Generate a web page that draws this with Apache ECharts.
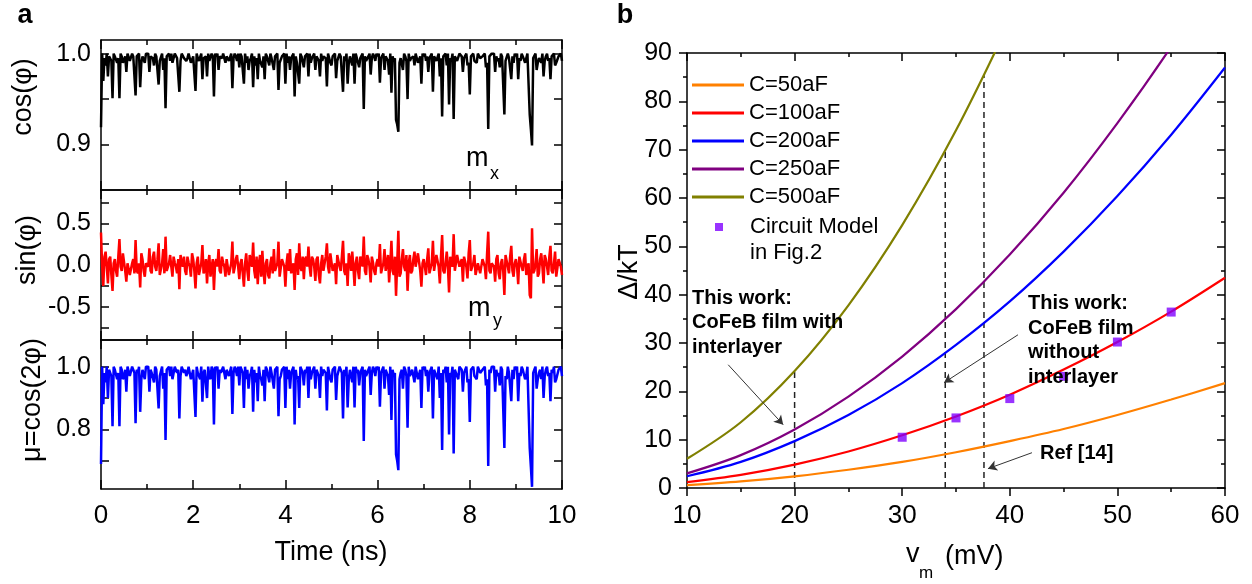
<!DOCTYPE html>
<html>
<head>
<meta charset="utf-8">
<script src="https://cdn.jsdelivr.net/npm/echarts@6/dist/echarts.min.js"></script>
<style>html,body{margin:0;padding:0;background:#fff}#c{width:1252px;height:584px}</style>
</head>
<body>
<div id="c"></div>
<script>
// ---------- Panel a data (sampled every 0.025 ns, 0..10 ns) ----------
const timeStep = 0.025;
const cosPhi = [
0.919,1.000,0.970,0.995,0.987,1.000,0.975,0.997,0.995,0.992,0.951,1.000,0.997,0.997,0.990,0.995,0.951,1.000,0.997,0.990,
0.992,0.997,0.980,1.000,1.000,0.992,0.992,1.000,0.997,0.995,0.954,0.997,0.995,1.000,0.963,0.990,0.997,0.997,0.990,1.000,
1.000,1.000,0.980,0.997,0.995,0.995,0.987,1.000,0.997,0.997,0.966,0.992,0.992,1.000,0.982,0.995,0.940,0.997,0.997,1.000,
0.992,1.000,0.990,0.995,1.000,1.000,0.995,0.997,0.958,0.992,1.000,1.000,0.995,0.997,0.992,0.995,1.000,1.000,0.990,0.990,
0.997,0.997,0.959,1.000,0.995,0.992,0.990,1.000,0.972,0.995,0.997,0.997,0.975,1.000,0.992,0.990,1.000,0.997,0.953,1.000,
0.997,1.000,0.982,0.997,0.995,0.995,1.000,1.000,0.990,0.997,0.997,0.992,0.992,1.000,0.962,0.995,1.000,0.997,0.992,1.000,
0.985,1.000,0.997,0.995,0.967,1.000,0.990,0.997,0.982,0.992,0.995,1.000,0.963,0.997,0.987,0.995,0.972,1.000,0.992,0.990,
0.985,0.997,0.972,1.000,0.997,0.992,0.987,1.000,0.995,0.995,0.982,0.997,0.997,1.000,0.960,0.990,0.992,0.997,0.997,1.000,
0.967,1.000,0.990,0.997,0.982,0.995,0.995,1.000,0.953,0.997,0.990,0.992,0.967,1.000,0.997,0.995,0.985,0.997,0.995,1.000,
0.975,1.000,0.990,0.995,0.997,1.000,0.982,0.997,0.995,0.992,0.975,1.000,0.992,0.997,0.997,0.995,0.964,1.000,0.995,0.990,
0.987,0.997,0.997,1.000,0.973,0.992,0.992,1.000,0.997,0.995,0.958,0.997,0.992,1.000,0.967,0.990,0.997,0.997,0.987,1.000,
0.967,1.000,0.995,0.997,0.985,0.995,0.997,1.000,0.939,0.997,0.992,0.992,0.997,1.000,0.977,0.995,1.000,0.997,0.992,1.000,
0.997,1.000,0.968,0.995,0.995,1.000,0.982,0.997,0.997,0.992,0.977,1.000,0.957,0.997,0.992,0.995,0.927,0.922,0.914,0.990,
0.995,0.997,0.982,1.000,0.997,0.992,0.950,1.000,0.992,0.995,0.997,0.997,0.987,1.000,1.000,0.990,0.990,0.997,0.967,1.000,
0.997,1.000,0.992,0.997,0.980,0.995,0.995,1.000,0.958,0.997,0.997,0.992,0.990,1.000,0.975,0.995,0.931,0.997,0.995,1.000,
0.987,1.000,0.944,0.995,0.992,1.000,0.928,0.997,0.997,0.992,0.990,1.000,1.000,0.997,0.980,0.995,0.995,1.000,0.987,0.990,
0.955,0.997,0.997,1.000,0.992,0.992,0.990,1.000,1.000,0.995,0.995,0.997,0.997,1.000,0.985,0.990,0.917,0.997,0.995,1.000,
1.000,1.000,0.980,0.997,0.992,0.995,0.985,1.000,0.997,0.997,0.933,0.992,0.990,1.000,0.995,0.995,0.972,0.997,0.990,1.000,
0.997,1.000,0.972,0.995,0.992,1.000,0.997,0.997,0.990,0.992,1.000,1.000,0.933,0.917,0.899,0.995,0.997,1.000,0.982,0.990,
0.995,0.997,0.990,1.000,0.975,0.992,0.997,1.000,0.992,0.995,0.972,0.997,0.995,1.000,0.987,0.990,0.990,0.997,0.997,1.000,
0.992];
const sinPhi = [
0.39,-0.02,-0.25,0.10,0.16,-0.02,-0.22,0.07,0.10,-0.12,-0.31,0.02,0.07,-0.07,-0.14,0.10,0.31,-0.02,-0.07,0.14,
0.12,-0.07,-0.20,0.02,0.03,-0.12,-0.12,0.02,0.07,-0.10,0.30,-0.07,-0.10,0.02,-0.27,0.14,0.07,-0.07,-0.14,0.02,
0.03,-0.02,0.20,-0.07,-0.10,0.10,0.16,-0.02,-0.07,0.07,0.26,-0.12,-0.12,0.02,0.19,-0.10,0.34,-0.07,-0.07,0.02,
0.12,-0.02,-0.14,0.10,0.03,-0.02,-0.10,0.07,-0.29,0.12,0.04,-0.02,0.10,-0.07,-0.12,0.10,0.03,-0.02,-0.14,0.14,
0.07,-0.07,-0.28,0.02,0.10,-0.12,-0.14,0.02,0.24,-0.10,-0.07,0.07,-0.22,0.02,0.12,-0.14,-0.03,0.07,-0.30,0.02,
0.07,-0.02,0.19,-0.07,-0.10,0.10,0.03,-0.02,-0.14,0.07,0.07,-0.12,-0.12,0.02,0.28,-0.10,-0.03,0.07,0.12,-0.02,
-0.17,0.02,0.07,-0.10,-0.26,0.02,0.14,-0.07,-0.19,0.12,0.10,-0.02,0.27,-0.07,-0.16,0.10,-0.23,0.02,0.12,-0.14,
0.17,-0.07,-0.23,0.02,0.07,-0.12,-0.16,0.02,0.10,-0.10,0.19,-0.07,-0.07,0.02,0.28,-0.14,-0.12,0.07,0.07,-0.02,
-0.26,0.02,0.14,-0.07,0.19,-0.10,-0.10,0.02,-0.30,0.07,0.14,-0.12,0.26,-0.02,-0.07,0.10,-0.17,0.07,0.10,-0.02,
0.22,-0.02,-0.14,0.10,0.07,-0.02,-0.19,0.07,0.10,-0.12,-0.22,0.02,0.12,-0.07,-0.07,0.10,0.26,-0.02,-0.10,0.14,
0.16,-0.07,-0.07,0.02,-0.23,0.12,0.12,-0.02,-0.07,0.10,0.29,-0.07,-0.12,0.02,-0.25,0.14,0.07,-0.07,0.16,-0.02,
-0.25,0.02,0.10,-0.07,-0.17,0.10,0.07,-0.02,0.34,-0.07,-0.12,0.12,0.07,-0.02,-0.21,0.10,0.03,-0.07,-0.12,0.02,
0.07,-0.02,0.25,-0.10,-0.10,0.02,0.19,-0.07,-0.07,0.12,-0.21,0.02,0.29,-0.07,-0.12,0.10,-0.37,-0.39,0.41,-0.14,
-0.10,0.07,0.19,-0.02,-0.07,0.12,-0.31,0.02,0.12,-0.10,-0.07,0.07,0.16,-0.02,-0.03,0.14,0.14,-0.07,-0.26,0.02,
0.07,-0.02,-0.12,0.07,0.20,-0.10,-0.10,0.02,0.29,-0.07,-0.07,0.12,0.14,-0.02,-0.22,0.10,0.36,-0.07,-0.10,0.02,
0.16,-0.02,-0.33,0.10,0.12,-0.02,0.37,-0.07,-0.07,0.12,0.14,-0.02,-0.03,0.07,-0.20,0.10,0.10,-0.02,-0.16,0.14,
0.30,-0.07,-0.07,0.02,0.12,-0.12,-0.14,0.02,0.03,-0.10,-0.10,0.07,0.07,-0.02,-0.17,0.14,0.40,-0.07,-0.10,0.02,
0.03,-0.02,-0.20,0.07,0.12,-0.10,-0.17,0.02,0.07,-0.07,-0.36,0.12,0.14,-0.02,-0.10,0.10,0.23,-0.07,-0.14,0.02,
0.07,-0.02,-0.23,0.10,0.12,-0.02,-0.07,0.07,0.14,-0.12,-0.03,0.02,-0.36,-0.40,0.44,-0.10,-0.07,0.02,0.19,-0.14,
-0.10,0.07,0.14,-0.02,-0.22,0.12,0.07,-0.02,-0.12,0.10,0.23,-0.07,-0.10,0.02,0.16,-0.14,-0.14,0.07,0.07,-0.02,
-0.12];
const muVals = [
0.69,1.00,0.88,0.98,0.95,1.00,0.90,0.99,0.98,0.97,0.81,1.00,0.99,0.99,0.96,0.98,0.81,1.00,0.99,0.96,
0.97,0.99,0.92,1.00,1.00,0.97,0.97,1.00,0.99,0.98,0.82,0.99,0.98,1.00,0.856,0.96,0.99,0.99,0.96,1.00,
1.00,1.00,0.92,0.99,0.98,0.98,0.95,1.00,0.99,0.99,0.867,0.97,0.97,1.00,0.93,0.98,0.766,0.99,0.99,1.00,
0.97,1.00,0.96,0.98,1.00,1.00,0.98,0.99,0.835,0.97,1.00,1.00,0.98,0.99,0.97,0.98,1.00,1.00,0.96,0.96,
0.99,0.99,0.84,1.00,0.98,0.97,0.96,1.00,0.888,0.98,0.99,0.99,0.90,1.00,0.97,0.96,1.00,0.99,0.816,1.00,
0.99,1.00,0.93,0.99,0.98,0.98,1.00,1.00,0.96,0.99,0.99,0.97,0.97,1.00,0.849,0.98,1.00,0.99,0.97,1.00,
0.94,1.00,0.99,0.98,0.868,1.00,0.96,0.99,0.93,0.97,0.98,1.00,0.856,0.99,0.95,0.98,0.89,1.00,0.97,0.96,
0.94,0.99,0.89,1.00,0.99,0.97,0.95,1.00,0.98,0.98,0.93,0.99,0.99,1.00,0.842,0.96,0.97,0.99,0.99,1.00,
0.868,1.00,0.96,0.99,0.93,0.98,0.98,1.00,0.816,0.99,0.96,0.97,0.868,1.00,0.99,0.98,0.94,0.99,0.98,1.00,
0.90,1.00,0.96,0.98,0.99,1.00,0.93,0.99,0.98,0.97,0.90,1.00,0.97,0.99,0.99,0.98,0.86,1.00,0.98,0.96,
0.95,0.99,0.99,1.00,0.894,0.97,0.97,1.00,0.99,0.98,0.835,0.99,0.97,1.00,0.87,0.96,0.99,0.99,0.95,1.00,
0.87,1.00,0.98,0.99,0.94,0.98,0.99,1.00,0.763,0.99,0.97,0.97,0.99,1.00,0.91,0.98,1.00,0.99,0.97,1.00,
0.99,1.00,0.872,0.98,0.98,1.00,0.93,0.99,0.99,0.97,0.91,1.00,0.83,0.99,0.97,0.98,0.72,0.70,0.67,0.96,
0.98,0.99,0.93,1.00,0.99,0.97,0.805,1.00,0.97,0.98,0.99,0.99,0.95,1.00,1.00,0.96,0.96,0.99,0.868,1.00,
0.99,1.00,0.97,0.99,0.92,0.98,0.98,1.00,0.835,0.99,0.99,0.97,0.96,1.00,0.90,0.98,0.734,0.99,0.98,1.00,
0.95,1.00,0.784,0.98,0.97,1.00,0.723,0.99,0.99,0.97,0.96,1.00,1.00,0.99,0.92,0.98,0.98,1.00,0.95,0.96,
0.824,0.99,0.99,1.00,0.97,0.97,0.96,1.00,1.00,0.98,0.98,0.99,0.99,1.00,0.94,0.96,0.683,0.99,0.98,1.00,
1.00,1.00,0.92,0.99,0.97,0.98,0.94,1.00,0.99,0.99,0.741,0.97,0.96,1.00,0.98,0.98,0.89,0.99,0.96,1.00,
0.99,1.00,0.89,0.98,0.97,1.00,0.99,0.99,0.96,0.97,1.00,1.00,0.74,0.68,0.617,0.98,0.99,1.00,0.93,0.96,
0.98,0.99,0.96,1.00,0.90,0.97,0.99,1.00,0.97,0.98,0.89,0.99,0.98,1.00,0.95,0.96,0.96,0.99,0.99,1.00,
0.97];
const cosTicks = [0.9, 0.95, 1.0], cosLabels = [0.9, 1.0];
const sinTicks = [-0.75, -0.5, -0.25, 0, 0.25, 0.5, 0.75], sinLabels = [-0.5, 0, 0.5];
const muTicks = [0.7, 0.8, 0.9, 1.0], muLabels = [0.8, 1.0];

// ---------- Panel b data ----------
const vm = [10, 15, 20, 25, 30, 35, 40, 45, 50, 55, 60];
const c50 = [0.6, 1.36, 2.42, 3.78, 5.4, 7.4, 9.7, 12.2, 15.1, 18.3, 21.7];
const c100 = [1.21, 2.7, 4.83, 7.55, 10.9, 14.8, 19.3, 24.5, 30.2, 36.5, 43.5];
const c200 = [2.42, 5.4, 9.7, 15.1, 21.7, 29.6, 38.6, 48.9, 60.4, 73.1, 87.0];
const c250 = [3.02, 6.8, 12.1, 18.9, 27.2, 37.0, 48.3, 61.1, 75.5, 91.3, 108.7];
const c500 = [6.04, 13.6, 24.2, 37.8, 54.4, 74.0, 96.6];
const curveNames = ['C=50aF', 'C=100aF', 'C=200aF', 'C=250aF', 'C=500aF'];
const curveColors = ['#FF8000', '#FF0000', '#0000FF', '#800080', '#808000'];
const circuitV = [30, 35, 40, 45, 50, 55];
const circuitD = [10.5, 14.5, 18.5, 23.1, 30.2, 36.4];
const dashV = [20, 34, 37.6];
const dashTop = [24.2, 69.8, 85.4];
// arrows: [fromX, fromY, toX, toY] in data units
const arrows = [[13.83, 25.5, 18.94, 13.1], [40.76, 31.7, 33.89, 21.8], [42.06, 7.3, 37.97, 4.0]];

const FONT = '"Liberation Sans", Arial, sans-serif';
const BLK = '#000';
const axLine = {show: true, onZero: false, lineStyle: {color: BLK, width: 1.5}};
const fmt1 = v => (Math.abs(v) < 1e-9 ? 0 : v).toFixed(1);

function aY(grid, pos, min, max, ticks, labels) {
  return {
    type: 'value', gridIndex: grid, position: pos, min, max,
    axisLine: axLine,
    axisTick: {show: true, inside: true, length: 8, customValues: ticks, lineStyle: {color: BLK, width: 1.5}},
    axisLabel: labels ? {show: true, customValues: labels, formatter: fmt1, fontSize: 25, color: BLK, fontFamily: FONT, margin: 10} : {show: false},
    splitLine: {show: false}
  };
}
function aX(grid, pos, withLabels) {
  return {
    type: 'value', gridIndex: grid, position: pos, min: 0, max: 10, interval: 2,
    axisLine: axLine,
    axisTick: {show: true, inside: true, length: 9, lineStyle: {color: BLK, width: 1.5}},
    minorTick: {show: true, splitNumber: 2, length: 5, lineStyle: {color: BLK, width: 1.5}},
    axisLabel: withLabels ? {show: true, fontSize: 26, color: BLK, fontFamily: FONT, margin: 14} : {show: false},
    splitLine: {show: false}, minorSplitLine: {show: false}
  };
}
function bAxis(kind, pos, min, max, withLabels, inside) {
  return {
    type: 'value', gridIndex: 3, position: pos, min, max, interval: 10,
    axisLine: axLine,
    axisTick: {show: true, inside, length: 8, lineStyle: {color: BLK, width: 1.5}},
    minorTick: {show: true, splitNumber: 2, length: 4, lineStyle: {color: BLK, width: 1.5}},
    axisLabel: withLabels ? {show: true, fontSize: kind === 'x' ? 26 : 25, color: BLK, fontFamily: FONT, margin: 15} : {show: false},
    splitLine: {show: false}, minorSplitLine: {show: false}
  };
}

const toTime = arr => arr.map((v, i) => [+(i * timeStep).toFixed(3), v]);
const curves = [c50, c100, c200, c250, c500];

const series = [
  {type: 'line', name: 'cos', xAxisIndex: 0, yAxisIndex: 0, data: toTime(cosPhi), symbol: 'none', lineStyle: {color: '#000', width: 2.5}, silent: true},
  {type: 'line', name: 'sin', xAxisIndex: 2, yAxisIndex: 2, data: toTime(sinPhi), symbol: 'none', lineStyle: {color: '#FF0000', width: 2.5}, silent: true},
  {type: 'line', name: 'mu', xAxisIndex: 4, yAxisIndex: 4, data: toTime(muVals), symbol: 'none', lineStyle: {color: '#0000FF', width: 2.5}, silent: true}
];
dashV.forEach((x, k) => {
  const s = {type: 'line', name: 'dash' + k, xAxisIndex: 6, yAxisIndex: 6, data: [[x, 0], [x, dashTop[k]]], symbol: 'none', silent: true,
    lineStyle: {color: '#222', width: 1.5, type: [6, 4]}, z: 1};
  if (k === 0) {
    s.markLine = {silent: true, symbol: ['none', 'arrow'], symbolSize: [8, 9], label: {show: false},
      lineStyle: {color: '#333', width: 1, type: 'solid'},
      data: arrows.map(a => [{coord: [a[0], a[1]]}, {coord: [a[2], a[3]]}])};
  }
  series.push(s);
});
curves.forEach((arr, k) => {
  series.push({type: 'line', name: curveNames[k], xAxisIndex: 6, yAxisIndex: 6, smooth: 0.35, symbol: 'none',
    data: arr.map((v, i) => [vm[i], v]), lineStyle: {color: curveColors[k], width: 2.2}, itemStyle: {color: curveColors[k]}, z: 2});
});
series.push({type: 'scatter', name: 'Circuit Model in Fig.2', xAxisIndex: 6, yAxisIndex: 6, symbol: 'rect', symbolSize: 9,
  data: circuitV.map((v, i) => [v, circuitD[i]]), itemStyle: {color: '#8000FF'}, z: 3});

function txt(x, y, text, size, opts) {
  opts = opts || {};
  return {type: 'text', x, y, rotation: opts.rot || 0, z: 100,
    style: {text, fontSize: size, fontFamily: FONT, fontWeight: opts.bold ? 'bold' : 'normal', fill: BLK,
      align: opts.align || 'left', textAlign: opts.align || 'left', verticalAlign: opts.va || 'middle', textVerticalAlign: opts.va || 'middle',
      lineHeight: opts.lh}};
}

const option = {
  animation: false,
  backgroundColor: '#fff',
  grid: [
    {left: 101, top: 40, width: 461, height: 150},
    {left: 101, top: 190, width: 461, height: 150},
    {left: 101, top: 340, width: 461, height: 149},
    {left: 687, top: 53, width: 538, height: 435}
  ],
  xAxis: [
    aX(0, 'bottom', false), aX(0, 'top', false),
    aX(1, 'bottom', false), aX(1, 'top', false),
    aX(2, 'bottom', true), aX(2, 'top', false),
    bAxis('x', 'bottom', 10, 60, true, false), bAxis('x', 'top', 10, 60, false, true)
  ],
  yAxis: [
    aY(0, 'left', 0.85, 1.015, cosTicks, cosLabels), aY(0, 'right', 0.85, 1.015, cosTicks, null),
    aY(1, 'left', -0.9, 0.9, sinTicks, sinLabels), aY(1, 'right', -0.9, 0.9, sinTicks, null),
    aY(2, 'left', 0.61, 1.085, muTicks, muLabels), aY(2, 'right', 0.61, 1.085, muTicks, null),
    bAxis('y', 'left', 0, 90, true, false), bAxis('y', 'right', 0, 90, false, true)
  ],
  legend: [
    {data: curveNames, orient: 'vertical', left: 692, top: 74, padding: 0, icon: 'rect', itemWidth: 52, itemHeight: 3, itemGap: 6,
      selectedMode: false, textStyle: {fontSize: 22, lineHeight: 22, color: BLK, fontFamily: FONT}},
    {data: ['Circuit Model in Fig.2'], orient: 'vertical', left: 715, top: 216, padding: 0, icon: 'rect', itemWidth: 8, itemHeight: 8,
      selectedMode: false, formatter: () => 'Circuit Model',
      textStyle: {fontSize: 22, lineHeight: 22, color: BLK, fontFamily: FONT, padding: [0, 0, 0, 22]}}
  ],
  graphic: {elements: [
    txt(25, 16, 'a', 27, {bold: true, align: 'center'}),
    txt(625, 16, 'b', 27, {bold: true, align: 'center'}),
    txt(24, 97, 'cos(φ)', 27, {rot: Math.PI / 2, align: 'center'}),
    txt(28, 250, 'sin(φ)', 27, {rot: Math.PI / 2, align: 'center'}),
    txt(33, 400, 'μ=cos(2φ)', 27, {rot: Math.PI / 2, align: 'center'}),
    txt(466, 159, 'm', 27),
    txt(490, 174, 'x', 18),
    txt(468, 309, 'm', 27),
    txt(493, 321, 'y', 18),
    txt(331, 553, 'Time (ns)', 27, {align: 'center'}),
    txt(630, 272, 'Δ/kT', 27, {rot: Math.PI / 2, align: 'center'}),
    txt(906, 555, 'v', 27),
    txt(919, 573, 'm', 17),
    txt(945, 557, '(mV)', 27),
    txt(750, 253, 'in Fig.2', 22),
    txt(692, 286, 'This work:\nCoFeB film with\ninterlayer', 20, {bold: true, va: 'top', lh: 24.5}),
    txt(1028, 291, 'This work:\nCoFeB film\nwithout\ninterlayer', 20, {bold: true, va: 'top', lh: 24.7}),
    txt(1040, 453, 'Ref [14]', 20, {bold: true})
  ]},
  series
};
const chart = echarts.init(document.getElementById('c'), null, {renderer: 'canvas'});
chart.setOption(option);
</script>
</body>
</html>
